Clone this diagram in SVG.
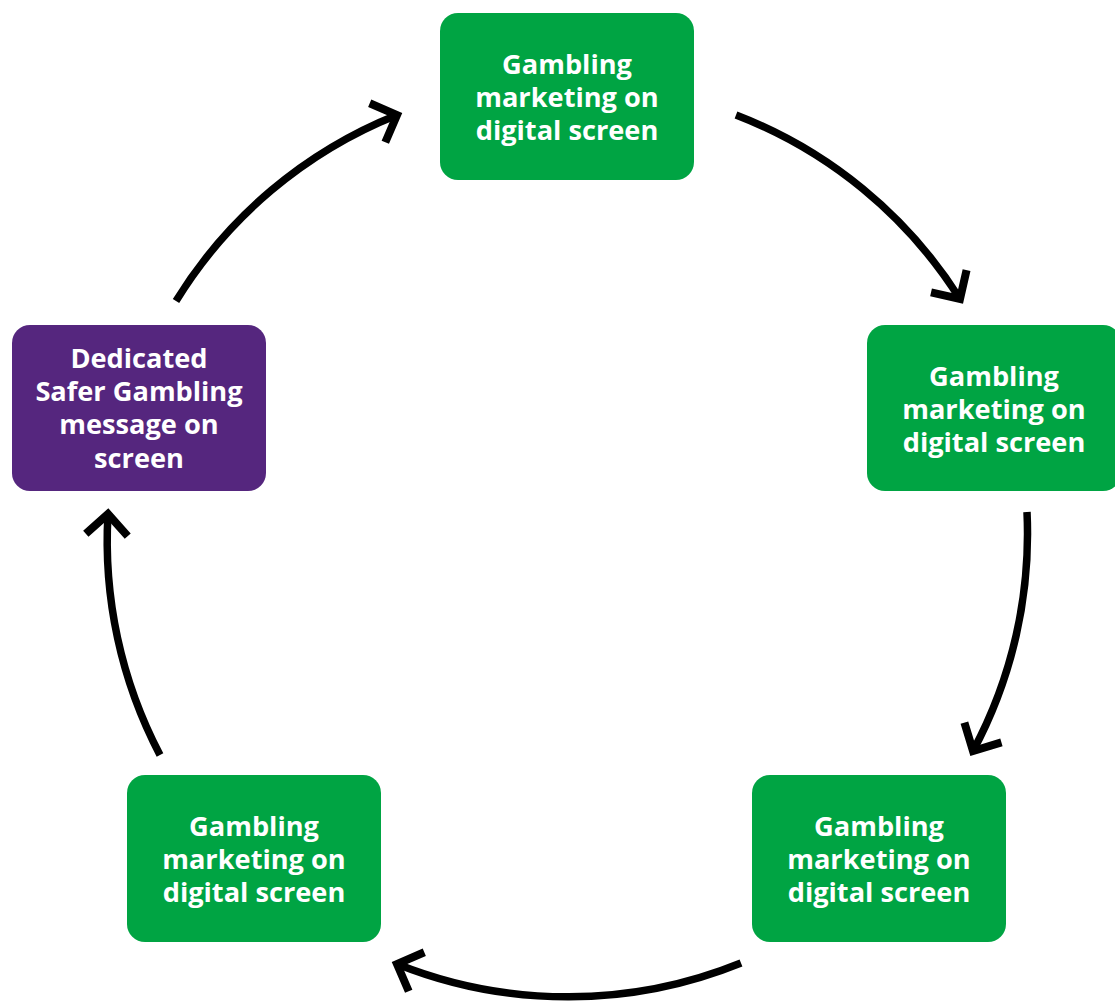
<svg xmlns="http://www.w3.org/2000/svg" width="1115" height="1001" viewBox="0 0 1115 1001">
<style>
.green{fill:#00A443}
.purple{fill:#55267E}
.t{font-family:"Open Sans","DejaVu Sans",sans-serif;font-weight:700;font-size:27.2px;fill:#ffffff;text-anchor:middle}
.arc{fill:none;stroke:#000;stroke-width:7.5;marker-end:url(#ah)}
</style>
<defs>
<marker id="ah" markerUnits="userSpaceOnUse" viewBox="-40 -40 50 80" markerWidth="50" markerHeight="80" refX="0" refY="0" orient="auto">
<path d="M -21,-21 L 0,0 L -21,21" fill="none" stroke="#000" stroke-width="8" stroke-linejoin="miter"/>
</marker>
</defs>
<g id="connectors">
<path class="arc" d="M 736 115 A 460 460 0 0 1 960 299"/>
<path class="arc" d="M 1027 512 A 460 460 0 0 1 973 751"/>
<path class="arc" d="M 741 963 A 460 460 0 0 1 397 964"/>
<path class="arc" d="M 160 755 A 460 460 0 0 1 108 514"/>
<path class="arc" d="M 176 301 A 460 460 0 0 1 397 115"/>
</g>
<g id="node-top">
<rect class="green" x="440" y="13" width="254" height="167" rx="18"/>
<text class="t" x="567" y="74">Gambling</text>
<text class="t" x="567" y="107">marketing on</text>
<text class="t" x="567" y="140">digital screen</text>
</g>
<g id="node-right">
<rect class="green" x="867" y="325" width="254" height="166" rx="18"/>
<text class="t" x="994" y="386">Gambling</text>
<text class="t" x="994" y="419">marketing on</text>
<text class="t" x="994" y="452">digital screen</text>
</g>
<g id="node-bottom-right">
<rect class="green" x="752" y="775" width="254" height="167" rx="18"/>
<text class="t" x="879" y="836">Gambling</text>
<text class="t" x="879" y="869">marketing on</text>
<text class="t" x="879" y="902">digital screen</text>
</g>
<g id="node-bottom-left">
<rect class="green" x="127" y="775" width="254" height="167" rx="18"/>
<text class="t" x="254" y="836">Gambling</text>
<text class="t" x="254" y="869">marketing on</text>
<text class="t" x="254" y="902">digital screen</text>
</g>
<g id="node-left">
<rect class="purple" x="12" y="325" width="254" height="166" rx="18"/>
<text class="t" x="139" y="368">Dedicated</text>
<text class="t" x="139" y="401">Safer Gambling</text>
<text class="t" x="139" y="434">message on</text>
<text class="t" x="139" y="468">screen</text>
</g>
</svg>
